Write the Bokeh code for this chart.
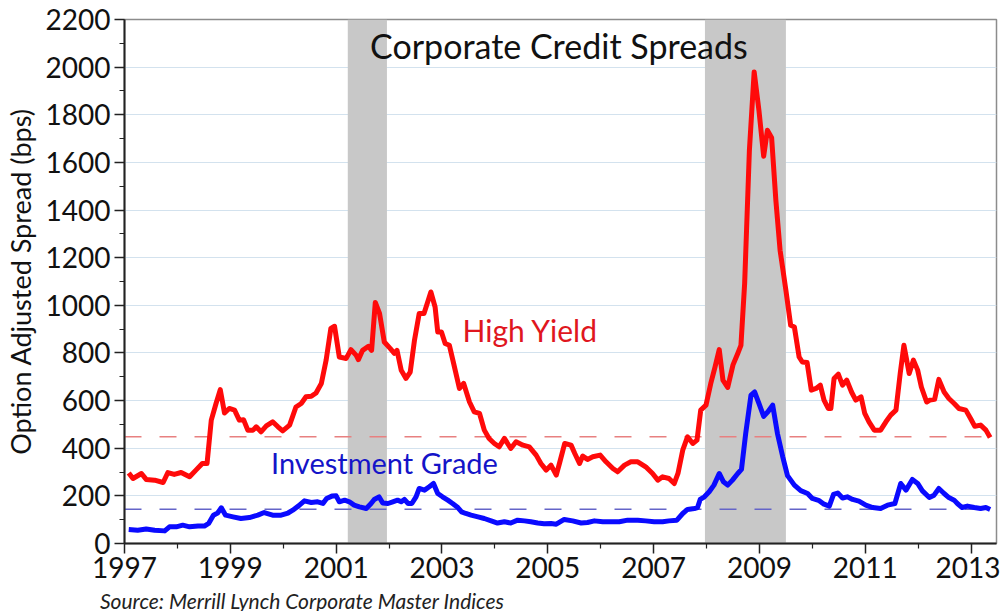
from bokeh.plotting import figure
from bokeh.models import Range1d, FixedTicker, Label, Div
from bokeh.layouts import column
from bokeh.embed import file_html
from bokeh.resources import INLINE

# High Yield option-adjusted spread (bps)
hy_year = [1997.08, 1997.16, 1997.32, 1997.41, 1997.57, 1997.73, 1997.82, 1997.94,
           1998.07, 1998.23, 1998.35, 1998.47, 1998.56, 1998.64, 1998.73, 1998.81,
           1998.89, 1998.98, 1999.08, 1999.17, 1999.25, 1999.33, 1999.43, 1999.49,
           1999.58, 1999.68, 1999.80, 1999.90, 1999.99, 2000.12, 2000.24, 2000.34,
           2000.43, 2000.53, 2000.62, 2000.72, 2000.81, 2000.90, 2000.97, 2001.06,
           2001.19, 2001.28, 2001.38, 2001.42, 2001.50, 2001.61, 2001.67, 2001.74,
           2001.82, 2001.91, 2002.02, 2002.10, 2002.15, 2002.23, 2002.32, 2002.40,
           2002.48, 2002.57, 2002.66, 2002.73, 2002.79, 2002.87, 2002.92, 2002.99,
           2003.06, 2003.14, 2003.22, 2003.33, 2003.41, 2003.52, 2003.61, 2003.71,
           2003.80, 2003.89, 2003.99, 2004.08, 2004.18, 2004.30, 2004.40, 2004.53,
           2004.65, 2004.78, 2004.87, 2004.97, 2005.06, 2005.16, 2005.22, 2005.32,
           2005.44, 2005.51, 2005.60, 2005.66, 2005.75, 2005.85, 2005.99, 2006.10,
           2006.23, 2006.32, 2006.45, 2006.57, 2006.70, 2006.85, 2006.98, 2007.08,
           2007.17, 2007.29, 2007.39, 2007.46, 2007.55, 2007.64, 2007.74, 2007.82,
           2007.89, 2007.99, 2008.08, 2008.16, 2008.24, 2008.31, 2008.40, 2008.50,
           2008.59, 2008.65, 2008.72, 2008.81, 2008.90, 2008.99, 2009.08, 2009.15,
           2009.23, 2009.31, 2009.39, 2009.50, 2009.59, 2009.66, 2009.75, 2009.81,
           2009.90, 2009.98, 2010.07, 2010.15, 2010.22, 2010.30, 2010.35, 2010.41,
           2010.49, 2010.57, 2010.65, 2010.74, 2010.82, 2010.92, 2010.99, 2011.07,
           2011.17, 2011.29, 2011.39, 2011.48, 2011.58, 2011.66, 2011.73, 2011.83,
           2011.91, 2011.99, 2012.06, 2012.16, 2012.22, 2012.31, 2012.39, 2012.49,
           2012.58, 2012.68, 2012.77, 2012.90, 2012.99, 2013.07, 2013.18, 2013.28,
           2013.36]
hy_bps = [296, 273, 294, 269, 266, 256, 298, 290,
          298, 280, 308, 336, 336, 518, 588, 646,
          548, 567, 560, 518, 520, 476, 476, 490,
          469, 494, 511, 490, 473, 497, 573, 588,
          616, 618, 632, 672, 769, 903, 912, 783,
          777, 814, 790, 772, 811, 828, 811, 1012,
          966, 846, 819, 798, 811, 727, 693, 720,
          853, 966, 966, 1014, 1056, 993, 888, 888,
          840, 832, 756, 651, 672, 594, 553, 546,
          476, 441, 420, 406, 441, 399, 427, 413,
          406, 371, 336, 308, 329, 287, 336, 420,
          413, 378, 336, 367, 353, 364, 371, 343,
          315, 301, 329, 343, 343, 322, 294, 266,
          280, 273, 252, 294, 392, 448, 420, 434,
          560, 581, 672, 741, 814, 686, 655, 750,
          798, 832, 1091, 1651, 1980, 1819, 1626, 1735,
          1704, 1441, 1231, 1063, 916, 909, 783, 762,
          760, 644, 651, 665, 602, 567, 567, 693,
          711, 665, 686, 636, 602, 616, 546, 511,
          476, 476, 511, 539, 560, 714, 832, 714,
          770, 728, 657, 594, 602, 605, 689, 636,
          609, 588, 567, 560, 525, 492, 497, 476,
          445]

# Investment Grade option-adjusted spread (bps)
ig_year = [1997.08, 1997.25, 1997.41, 1997.57, 1997.76, 1997.85, 1997.98, 1998.10,
           1998.23, 1998.39, 1998.51, 1998.59, 1998.68, 1998.76, 1998.83, 1998.91,
           1999.05, 1999.20, 1999.36, 1999.52, 1999.64, 1999.80, 1999.96, 2000.09,
           2000.18, 2000.29, 2000.40, 2000.53, 2000.65, 2000.75, 2000.82, 2000.92,
           2001.00, 2001.06, 2001.16, 2001.25, 2001.34, 2001.44, 2001.57, 2001.66,
           2001.72, 2001.81, 2001.88, 2001.98, 2002.07, 2002.16, 2002.23, 2002.29,
           2002.36, 2002.43, 2002.51, 2002.57, 2002.67, 2002.76, 2002.84, 2002.92,
           2003.01, 2003.11, 2003.20, 2003.30, 2003.37, 2003.45, 2003.55, 2003.68,
           2003.80, 2003.93, 2004.05, 2004.18, 2004.30, 2004.43, 2004.56, 2004.68,
           2004.81, 2004.93, 2005.06, 2005.16, 2005.31, 2005.47, 2005.63, 2005.75,
           2005.88, 2006.04, 2006.19, 2006.35, 2006.51, 2006.70, 2006.85, 2007.01,
           2007.17, 2007.29, 2007.44, 2007.55, 2007.64, 2007.77, 2007.83, 2007.88,
           2007.96, 2008.05, 2008.14, 2008.24, 2008.32, 2008.40, 2008.49, 2008.59,
           2008.66, 2008.74, 2008.84, 2008.91, 2008.99, 2009.08, 2009.16, 2009.25,
           2009.34, 2009.44, 2009.53, 2009.66, 2009.78, 2009.91, 2010.00, 2010.13,
           2010.22, 2010.32, 2010.40, 2010.48, 2010.57, 2010.66, 2010.76, 2010.88,
           2011.01, 2011.14, 2011.29, 2011.42, 2011.56, 2011.67, 2011.77, 2011.89,
           2011.99, 2012.08, 2012.21, 2012.30, 2012.39, 2012.49, 2012.58, 2012.68,
           2012.74, 2012.83, 2012.93, 2013.06, 2013.18, 2013.28, 2013.36]
ig_bps = [59, 56, 61, 56, 53, 70, 70, 77,
          70, 73, 73, 84, 119, 128, 150, 119,
          112, 105, 109, 119, 130, 119, 119, 128,
          140, 158, 179, 172, 175, 168, 189, 199,
          200, 175, 182, 175, 161, 154, 147, 168,
          185, 196, 170, 168, 175, 182, 175, 185,
          168, 168, 196, 231, 224, 238, 252, 210,
          196, 182, 168, 151, 133, 126, 119, 112,
          105, 95, 86, 91, 86, 98, 95, 91,
          86, 83, 84, 81, 101, 95, 86, 88,
          95, 91, 91, 91, 98, 98, 95, 91,
          91, 95, 98, 126, 143, 147, 151, 185,
          196, 217, 245, 294, 259, 245, 266, 294,
          311, 462, 623, 636, 588, 534, 553, 581,
          462, 364, 285, 245, 222, 210, 189, 180,
          165, 157, 206, 212, 191, 196, 185, 178,
          161, 151, 147, 161, 168, 252, 224, 269,
          252, 221, 193, 203, 231, 210, 193, 182,
          168, 151, 157, 151, 147, 151, 143]

recession_start = [2001.22, 2007.97]
recession_end = [2001.96, 2009.50]
hy_average = 448
ig_average = 144

x_major = [1997, 1999, 2001, 2003, 2005, 2007, 2009, 2011, 2013]
x_minor = [1998, 2000, 2002, 2004, 2006, 2008, 2010, 2012]
x_labels = ["1997", "1999", "2001", "2003", "2005", "2007", "2009", "2011", "2013"]
y_major = [0, 200, 400, 600, 800, 1000, 1200, 1400, 1600, 1800, 2000, 2200]
y_minor = [100, 300, 500, 700, 900, 1100, 1300, 1500, 1700, 1900, 2100]

title_text = "Corporate Credit Spreads"
hy_name = "High Yield"
ig_name = "Investment Grade"
y_title = "Option Adjusted Spread (bps)"
source_text = "Source: Merrill Lynch Corporate Master Indices"

X_START, X_END = 1997, 2013.48
Y_START, Y_END = 0, 2200
FONT = "Lato"

p = figure(width=1000, height=590, output_backend="svg", toolbar_location=None,
           x_range=Range1d(X_START, X_END), y_range=Range1d(Y_START, Y_END),
           min_border_left=123, min_border_right=4, min_border_top=19,
           min_border_bottom=47)
p.background_fill_color = "white"
p.border_fill_color = "white"
p.outline_line_color = "#8c8c8c"
p.outline_line_width = 1.5

p.xgrid.visible = False
p.ygrid.ticker = FixedTicker(ticks=y_major)
p.ygrid.grid_line_color = "#d3e2ee"
p.ygrid.grid_line_width = 1.2

# recession bands
p.quad(left=recession_start, right=recession_end, bottom=Y_START, top=Y_END,
       fill_color="#c8c8c8", line_color=None)

# long-run averages
p.line([X_START, X_END], [hy_average, hy_average], line_color="#e88080",
       line_width=1.6, line_dash="17 18")
p.line([X_START, X_END], [ig_average, ig_average], line_color="#6464c8",
       line_width=1.6, line_dash="17 18")

p.line(hy_year, hy_bps, line_color="#ff0a0a", line_width=5, line_join="round")
p.line(ig_year, ig_bps, line_color="#0a0aff", line_width=5, line_join="round")

for ax in (p.xaxis[0], p.yaxis[0]):
    ax.axis_line_color = "#222222"
    ax.axis_line_width = 2
    ax.major_tick_line_color = "#222222"
    ax.major_tick_line_width = 1.5
    ax.minor_tick_line_color = "#222222"
    ax.minor_tick_line_width = 1.2
    ax.major_tick_in = 0
    ax.major_tick_out = 10
    ax.minor_tick_in = 0
    ax.minor_tick_out = 5
    ax.major_label_text_font = FONT
    ax.major_label_text_font_size = "28px"
    ax.major_label_text_color = "#111111"

p.xaxis.ticker = FixedTicker(ticks=x_major, minor_ticks=x_minor)
p.xaxis.major_label_overrides = {y: s for y, s in zip(x_major, x_labels)}
p.xaxis.major_label_standoff = 3
p.yaxis.ticker = FixedTicker(ticks=y_major, minor_ticks=y_minor)
p.yaxis.major_label_standoff = 4
p.yaxis.axis_label = y_title
p.yaxis.axis_label_text_font = FONT
p.yaxis.axis_label_text_font_size = "27px"
p.yaxis.axis_label_text_font_style = "normal"
p.yaxis.axis_label_text_color = "#111111"
p.yaxis.axis_label_standoff = 6

p.add_layout(Label(x=2005.21, y=2092, text=title_text,
                   text_align="center", text_baseline="alphabetic",
                   text_font=FONT, text_font_size="34px", text_color="#111111"))
p.add_layout(Label(x=2003.39, y=898, text=hy_name, text_align="left",
                   text_baseline="alphabetic", text_font=FONT,
                   text_font_size="30px", text_color="#e0161e"))
p.add_layout(Label(x=1999.77, y=340, text=ig_name, text_align="left",
                   text_baseline="alphabetic", text_font=FONT,
                   text_font_size="29px", text_color="#1414c8"))

source = Div(text=source_text, width=620, height=21, margin=(0, 0, 0, 100),
             styles={"font-family": FONT, "font-style": "italic",
                     "font-size": "21px", "line-height": "21px",
                     "color": "#222222", "white-space": "nowrap"})

open("out.html", "w").write(file_html(column(p, source), INLINE))
